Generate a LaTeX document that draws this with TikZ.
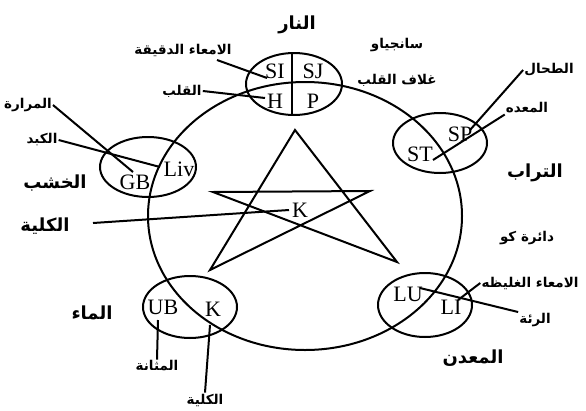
\documentclass[tikz,border=0pt]{standalone}
\usepackage{fontspec}
\setmainfont{Liberation Serif}
\newfontfamily\arabicfont[Script=Arabic]{DejaVu Sans}
\TeXXeTstate=1
\newcommand{\ar}[1]{\beginR #1\endR}
\begin{document}
\begin{tikzpicture}[x=1pt,y=-1pt,
  lw/.style={line width=2pt},
  lat/.style={font=\fontsize{22}{22}\selectfont, inner sep=0pt},
  sm/.style={font=\fontsize{13.5}{14}\arabicfont\bfseries, inner sep=1pt},
  big/.style={font=\fontsize{18}{18}\arabicfont\bfseries, inner sep=1pt}]
\useasboundingbox (0,0) rectangle (586,410);
% big circle (Ko cycle)
\draw[lw] (305,216) ellipse [x radius=157, y radius=134];
% organ ellipses
\draw[lw] (294,84) ellipse [x radius=48, y radius=31];
\draw[lw] (292,53) -- (292,115);
\draw[lw] (148,167) ellipse [x radius=48, y radius=30];
\draw[lw] (440,143) ellipse [x radius=47, y radius=30];
\draw[lw] (425,305) ellipse [x radius=47, y radius=32];
\draw[lw] (190,307) ellipse [x radius=47, y radius=31];
% pentagram
\coordinate (pT) at (295,130);
\coordinate (pL) at (213,192);
\coordinate (pR) at (370,191);
\coordinate (pBL) at (210,270);
\coordinate (pBR) at (397,262);
\draw[lw, line join=miter] (pT) -- (pBL) -- (pR) -- (pL) -- (pBR) -- cycle;
% latin labels
\node[lat] (SI) at (275,71) {SI};
\node[lat] (SJ) at (313,71) {SJ};
\node[lat] (H) at (275,101) {H};
\node[lat] (P) at (313,101) {P};
\node[lat] (GB) at (135,182) {GB};
\node[lat] (Liv) at (179,169) {Liv};
\node[lat] (SP) at (460,134) {SP};
\node[lat] (ST) at (420,154) {ST};
\node[lat] (LU) at (408,294) {LU};
\node[lat] (LI) at (451,307) {LI};
\node[lat] (UB) at (163,307) {UB};
\node[lat] (Kw) at (213,309) {K};
\node[lat] (K) at (300,210) {K};
% arabic labels
\node[big] (fire) at (297,25) {\ar{النار}};
\node[sm] (si) at (183,50) {\ar{الامعاء الدقيقة}};
\node[sm] (ht) at (182,91) {\ar{القلب}};
\node[sm] (sj) at (397,45) {\ar{سانجياو}};
\node[sm] (pc) at (397,80) {\ar{غلاف القلب}};
\node[sm] (sp) at (549,70) {\ar{الطحال}};
\node[sm] (st) at (527,108) {\ar{المعده}};
\node[big] (earth) at (535,173) {\ar{التراب}};
\node[sm] (ko) at (527,238) {\ar{دائرة كو}};
\node[sm] (li) at (530,283) {\ar{الامعاء الغليظه}};
\node[sm] (lu) at (535,320) {\ar{الرئة}};
\node[big] (metal) at (473,358) {\ar{المعدن}};
\node[sm] (gb) at (28,105) {\ar{المرارة}};
\node[sm] (liv) at (42,140) {\ar{الكبد}};
\node[big] (wood) at (55,183) {\ar{الخشب}};
\node[big] (kid) at (45,226) {\ar{الكلية}};
\node[big] (water) at (92,313) {\ar{الماء}};
\node[sm] (ub) at (157,366) {\ar{المثانة}};
\node[sm] (kw) at (205,400) {\ar{الكلية}};
% connector end points
\coordinate (eSI) at (267,78);
\coordinate (eH) at (265,98);
\coordinate (eSP) at (470,130);
\coordinate (eST) at (433,160);
\coordinate (eLI) at (458,300);
\coordinate (eLU) at (420,288);
\coordinate (eGB) at (133,172);
\coordinate (eLiv) at (160,167);
\coordinate (eK) at (289,210);
\coordinate (eUB) at (158,320);
\coordinate (eKw) at (210,325);
% connectors
\draw[lw] (217,60) coordinate (sSI) -- (eSI);
\draw[lw] (ht.east) -- (eH);
\draw[lw] (sp.west) -- (eSP);
\draw[lw] (st.south west) -- (eST);
\draw[lw] (li.west) -- (eLI);
\draw[lw] (lu.north west) -- (eLU);
\draw[lw] (gb.east) -- (eGB);
\draw[lw] (liv.east) -- (eLiv);
\draw[lw] (93,223) coordinate (sK) -- (eK);
\draw[lw] (ub.north) -- (eUB);
\draw[lw] (kw.north) -- (eKw);
\end{tikzpicture}
\end{document}
